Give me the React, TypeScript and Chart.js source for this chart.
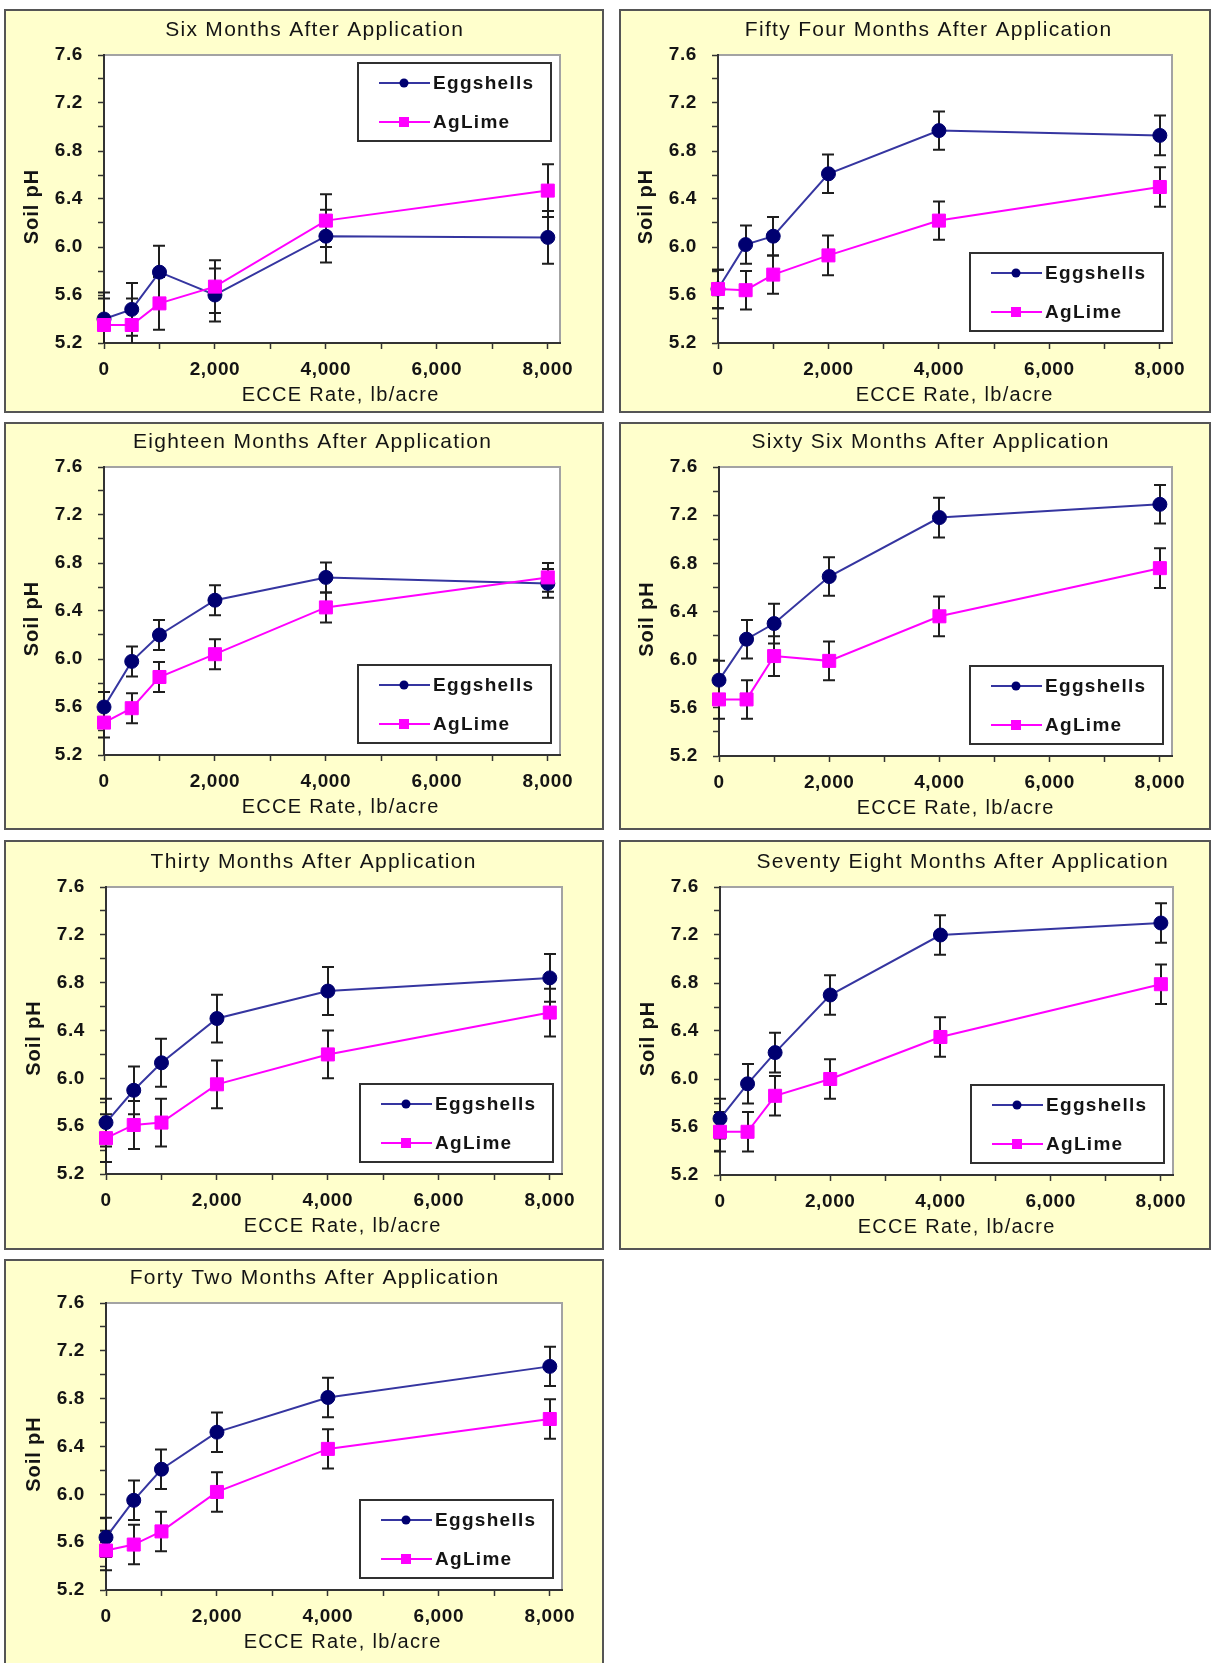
import React, { useEffect, useRef } from 'react';
import { Chart, registerables } from 'chart.js';

Chart.register(...registerables);

const FONT = "'Liberation Sans', Arial, Helvetica, sans-serif";

// ---------------- data ----------------
const rates = [0, 500, 1000, 2000, 4000, 8000];
const xTickMarks = [0, 1000, 2000, 3000, 4000, 5000, 6000, 7000, 8000];
const xTickValues = [0, 2000, 4000, 6000, 8000];
const xTickLabels = ['0', '2,000', '4,000', '6,000', '8,000'];
const yTickMarks = [5.2, 5.4, 5.6, 5.8, 6.0, 6.2, 6.4, 6.6, 6.8, 7.0, 7.2, 7.4, 7.6];
const yTickValues = [5.2, 5.6, 6.0, 6.4, 6.8, 7.2, 7.6];
const yTickLabels = ['5.2', '5.6', '6.0', '6.4', '6.8', '7.2', '7.6'];
const seriesNames = ['Eggshells', 'AgLime'];
const xAxisTitle = 'ECCE Rate, lb/acre';
const yAxisTitle = 'Soil pH';

const sixTitle = 'Six Months After Application';
const sixEgg = [5.40, 5.48, 5.79, 5.60, 6.09, 6.08];
const sixEggErr = [0.22, 0.22, 0.22, 0.22, 0.22, 0.22];
const sixLime = [5.35, 5.35, 5.53, 5.67, 6.22, 6.47];
const sixLimeErr = [0.22, 0.22, 0.22, 0.22, 0.22, 0.22];

const eighteenTitle = 'Eighteen Months After Application';
const eighteenEgg = [5.60, 5.98, 6.20, 6.49, 6.68, 6.63];
const eighteenEggErr = [0.125, 0.125, 0.125, 0.125, 0.125, 0.12];
const eighteenLime = [5.47, 5.59, 5.85, 6.04, 6.43, 6.68];
const eighteenLimeErr = [0.125, 0.125, 0.125, 0.125, 0.125, 0.12];

const thirtyTitle = 'Thirty Months After Application';
const thirtyEgg = [5.63, 5.90, 6.13, 6.50, 6.73, 6.84];
const thirtyEggErr = [0.2, 0.2, 0.2, 0.2, 0.2, 0.2];
const thirtyLime = [5.50, 5.61, 5.63, 5.95, 6.20, 6.55];
const thirtyLimeErr = [0.2, 0.2, 0.2, 0.2, 0.2, 0.2];

const fortyTwoTitle = 'Forty Two Months After Application';
const fortyTwoEgg = [5.64, 5.95, 6.21, 6.52, 6.81, 7.07];
const fortyTwoEggErr = [0.165, 0.165, 0.165, 0.165, 0.165, 0.165];
const fortyTwoLime = [5.53, 5.58, 5.69, 6.02, 6.38, 6.63];
const fortyTwoLimeErr = [0.165, 0.165, 0.165, 0.165, 0.165, 0.165];

const fiftyFourTitle = 'Fifty Four Months After Application';
const fiftyFourEgg = [5.65, 6.02, 6.09, 6.61, 6.97, 6.93];
const fiftyFourEggErr = [0.16, 0.16, 0.16, 0.16, 0.16, 0.165];
const fiftyFourLime = [5.65, 5.64, 5.77, 5.93, 6.22, 6.50];
const fiftyFourLimeErr = [0.16, 0.16, 0.16, 0.165, 0.16, 0.165];

const sixtySixTitle = 'Sixty Six Months After Application';
const sixtySixEgg = [5.83, 6.17, 6.30, 6.69, 7.18, 7.29];
const sixtySixEggErr = [0.16, 0.16, 0.165, 0.16, 0.165, 0.16];
const sixtySixLime = [5.67, 5.67, 6.03, 5.99, 6.36, 6.76];
const sixtySixLimeErr = [0.16, 0.16, 0.165, 0.16, 0.165, 0.165];

const seventyEightTitle = 'Seventy Eight Months After Application';
const seventyEightEgg = [5.67, 5.96, 6.22, 6.70, 7.20, 7.30];
const seventyEightEggErr = [0.165, 0.165, 0.165, 0.165, 0.165, 0.165];
const seventyEightLime = [5.56, 5.56, 5.86, 6.00, 6.35, 6.79];
const seventyEightLimeErr = [0.165, 0.165, 0.165, 0.165, 0.165, 0.165];

// ---------------- layout (page pixel coordinates) ----------------
const PANELS = [
  { title: sixTitle, egg: sixEgg, eggErr: sixEggErr, lime: sixLime, limeErr: sixLimeErr, legendTop: true,
    left: 4, top: 9, w: 600, h: 404, pl: 104, pr: 560, pt: 55, pb: 343, tx: 314 },
  { title: fiftyFourTitle, egg: fiftyFourEgg, eggErr: fiftyFourEggErr, lime: fiftyFourLime, limeErr: fiftyFourLimeErr, legendTop: false,
    left: 619, top: 9, w: 592, h: 404, pl: 718, pr: 1172, pt: 55, pb: 343, tx: 928 },
  { title: eighteenTitle, egg: eighteenEgg, eggErr: eighteenEggErr, lime: eighteenLime, limeErr: eighteenLimeErr, legendTop: false,
    left: 4, top: 422, w: 600, h: 408, pl: 104, pr: 560, pt: 467, pb: 755, tx: 312 },
  { title: sixtySixTitle, egg: sixtySixEgg, eggErr: sixtySixEggErr, lime: sixtySixLime, limeErr: sixtySixLimeErr, legendTop: false,
    left: 619, top: 422, w: 592, h: 408, pl: 719, pr: 1172, pt: 467, pb: 756, tx: 930 },
  { title: thirtyTitle, egg: thirtyEgg, eggErr: thirtyEggErr, lime: thirtyLime, limeErr: thirtyLimeErr, legendTop: false,
    left: 4, top: 840, w: 600, h: 410, pl: 106, pr: 562, pt: 887, pb: 1174, tx: 313 },
  { title: seventyEightTitle, egg: seventyEightEgg, eggErr: seventyEightEggErr, lime: seventyEightLime, limeErr: seventyEightLimeErr, legendTop: false,
    left: 619, top: 840, w: 592, h: 410, pl: 720, pr: 1173, pt: 887, pb: 1175, tx: 962 },
  { title: fortyTwoTitle, egg: fortyTwoEgg, eggErr: fortyTwoEggErr, lime: fortyTwoLime, limeErr: fortyTwoLimeErr, legendTop: false,
    left: 4, top: 1259, w: 600, h: 410, pl: 106, pr: 562, pt: 1303, pb: 1590, tx: 314 },
];

const X_MAX = 8220;
const EGG_LINE = '#3535A0';
const EGG_MARK = '#000070';
const LIME = '#FF00FF';
const TEXT = '#141414';
const AXIS = '#333333';
const TICK_SPACING = '0.6px';

function Panel({ cfg }: { cfg: any }) {
  const ref = useRef<HTMLCanvasElement>(null);
  const cw = cfg.w - 4;
  const ch = cfg.h - 4;

  useEffect(() => {
    const canvas = ref.current!;
    const ox = cfg.left + 2;
    const oy = cfg.top + 2;
    const pL = cfg.pl - ox;
    const pR = cfg.pr - ox;
    const pT = cfg.pt - oy;
    const pB = cfg.pb - oy;

    const tickFont = { family: FONT, size: 19, weight: 'bold' as const };

    const drawText = (ctx: any, text: string, x: number, y: number, font: string, spacing: number, rot = 0) => {
      ctx.save();
      ctx.letterSpacing = spacing + 'px';
      ctx.font = font;
      ctx.fillStyle = TEXT;
      ctx.textAlign = 'center';
      ctx.textBaseline = 'middle';
      ctx.translate(x, y);
      if (rot) ctx.rotate(rot);
      ctx.fillText(text, spacing / 2, 0);
      ctx.restore();
    };

    const panelPlugin = {
      id: 'panelPlugin',
      beforeUpdate(chart: any) {
        chart.ctx.letterSpacing = TICK_SPACING;
      },
      beforeDraw(chart: any) {
        const { ctx, chartArea: a } = chart;
        ctx.letterSpacing = TICK_SPACING;
        ctx.save();
        ctx.fillStyle = '#ffffff';
        ctx.fillRect(a.left, a.top, a.right - a.left, a.bottom - a.top);
        ctx.strokeStyle = '#a3a3a3';
        ctx.lineWidth = 2;
        ctx.beginPath();
        ctx.moveTo(a.left, a.top);
        ctx.lineTo(a.right, a.top);
        ctx.lineTo(a.right, a.bottom);
        ctx.stroke();
        ctx.restore();
      },
      beforeDatasetsDraw(chart: any) {
        const { ctx, chartArea: a, scales } = chart;
        const xs = scales.x;
        const ys = scales.y;
        ctx.save();
        ctx.beginPath();
        ctx.rect(a.left - 20, a.top, a.right - a.left + 40, a.bottom - a.top);
        ctx.clip();
        ctx.strokeStyle = '#1e1e1e';
        ctx.lineWidth = 2;
        chart.data.datasets.forEach((ds: any) => {
          ds.data.forEach((p: any, i: number) => {
            const e = ds.errors[i];
            const px = Math.round(xs.getPixelForValue(p.x));
            const y1 = ys.getPixelForValue(p.y + e);
            const y2 = ys.getPixelForValue(p.y - e);
            ctx.beginPath();
            ctx.moveTo(px, y1);
            ctx.lineTo(px, y2);
            ctx.moveTo(px - 6, y1);
            ctx.lineTo(px + 6, y1);
            ctx.moveTo(px - 6, y2);
            ctx.lineTo(px + 6, y2);
            ctx.stroke();
          });
        });
        ctx.restore();
      },
      afterDraw(chart: any) {
        const { ctx, chartArea: a } = chart;
        // titles
        drawText(ctx, cfg.title, cfg.tx - ox, pT - 25, `400 21px ${FONT}`, 1.3);
        drawText(ctx, xAxisTitle, pL + 236, pB + 52.5, `400 20px ${FONT}`, 1.3);
        drawText(ctx, yAxisTitle, pL - 72, (pT + pB) / 2 + 8, `700 20px ${FONT}`, 0.9, -Math.PI / 2);

        // legend
        const bw = 193;
        const bh = 78;
        const bx = a.right - 9 - bw;
        const by = cfg.legendTop ? a.top + 8 : a.bottom - 12 - bh;
        ctx.save();
        ctx.fillStyle = '#ffffff';
        ctx.fillRect(bx, by, bw, bh);
        ctx.strokeStyle = '#303030';
        ctx.lineWidth = 2;
        ctx.strokeRect(bx, by, bw, bh);
        const rows = [
          { name: seriesNames[0], line: EGG_LINE, mark: EGG_MARK, circle: true, y: by + 20 },
          { name: seriesNames[1], line: LIME, mark: LIME, circle: false, y: by + 59 },
        ];
        rows.forEach((r) => {
          ctx.strokeStyle = r.line;
          ctx.lineWidth = 2;
          ctx.beginPath();
          ctx.moveTo(bx + 21, r.y);
          ctx.lineTo(bx + 72, r.y);
          ctx.stroke();
          ctx.fillStyle = r.mark;
          if (r.circle) {
            ctx.beginPath();
            ctx.arc(bx + 46, r.y, 4.5, 0, Math.PI * 2);
            ctx.fill();
          } else {
            ctx.fillRect(bx + 41, r.y - 5, 10, 10);
          }
          ctx.letterSpacing = '1.3px';
          ctx.font = `700 19px ${FONT}`;
          ctx.fillStyle = TEXT;
          ctx.textAlign = 'left';
          ctx.textBaseline = 'middle';
          ctx.fillText(r.name, bx + 75, r.y + 1);
        });
        ctx.restore();
      },
    };

    const chart = new Chart(canvas, {
      type: 'line',
      data: {
        datasets: [
          {
            label: seriesNames[1],
            data: rates.map((x, i) => ({ x, y: cfg.lime[i] })),
            errors: cfg.limeErr,
            borderColor: LIME,
            backgroundColor: LIME,
            borderWidth: 2,
            pointStyle: 'rect',
            pointRadius: 9.2,
            pointBorderWidth: 1,
            pointBorderColor: LIME,
            pointBackgroundColor: LIME,
            tension: 0,
            clip: false,
            order: 0,
          } as any,
          {
            label: seriesNames[0],
            data: rates.map((x, i) => ({ x, y: cfg.egg[i] })),
            errors: cfg.eggErr,
            borderColor: EGG_LINE,
            backgroundColor: EGG_MARK,
            borderWidth: 2,
            pointStyle: 'circle',
            pointRadius: 7,
            pointBorderWidth: 1,
            pointBorderColor: EGG_MARK,
            pointBackgroundColor: EGG_MARK,
            tension: 0,
            clip: false,
            order: 1,
          } as any,
        ],
      },
      options: {
        responsive: false,
        animation: false,
        devicePixelRatio: 1,
        events: [],
        layout: { padding: { left: 0, top: pT, right: cw - pR, bottom: 0 } },
        plugins: {
          legend: { display: false },
          title: { display: false },
          tooltip: { enabled: false },
        },
        scales: {
          x: {
            type: 'linear',
            min: 0,
            max: X_MAX,
            afterBuildTicks: (s: any) => {
              s.ticks = xTickMarks.map((v) => ({ value: v }));
            },
            afterFit: (s: any) => {
              s.height = ch - pB;
            },
            ticks: {
              autoSkip: false,
              maxRotation: 0,
              padding: 9,
              color: TEXT,
              font: tickFont,
              callback: (v: any) => {
                const k = xTickValues.indexOf(Math.round(Number(v)));
                return k >= 0 ? xTickLabels[k] : '';
              },
            },
            grid: { display: true, drawOnChartArea: false, drawTicks: true, tickLength: 6, tickColor: AXIS, tickWidth: 1.5 },
            border: { display: true, color: AXIS, width: 2 },
            title: { display: false },
          },
          y: {
            type: 'linear',
            min: 5.2,
            max: 7.6,
            afterBuildTicks: (s: any) => {
              s.ticks = yTickMarks.map((v) => ({ value: v }));
            },
            afterFit: (s: any) => {
              s.width = pL;
            },
            ticks: {
              autoSkip: false,
              padding: 15,
              color: TEXT,
              font: tickFont,
              callback: (v: any) => {
                const k = yTickValues.findIndex((t) => Math.abs(t - Number(v)) < 1e-6);
                return k >= 0 ? yTickLabels[k] : '';
              },
            },
            grid: { display: true, drawOnChartArea: false, drawTicks: true, tickLength: 6, tickColor: AXIS, tickWidth: 1.5 },
            border: { display: true, color: AXIS, width: 2 },
            title: { display: false },
          },
        },
      } as any,
      plugins: [panelPlugin],
    });
    return () => chart.destroy();
  }, []);

  return (
    <div
      style={{
        position: 'absolute',
        left: cfg.left,
        top: cfg.top,
        width: cfg.w,
        height: cfg.h,
        boxSizing: 'border-box',
        border: '2px solid #555555',
        background: '#FFFFCC',
      }}
    >
      <canvas ref={ref} width={cw} height={ch} style={{ display: 'block', width: cw, height: ch }} />
    </div>
  );
}

export default function App() {
  return (
    <div style={{ position: 'absolute', left: 0, top: 0, width: 1215, height: 1663, overflow: 'hidden', background: '#ffffff' }}>
      {PANELS.map((p, i) => (
        <Panel key={i} cfg={p} />
      ))}
    </div>
  );
}
